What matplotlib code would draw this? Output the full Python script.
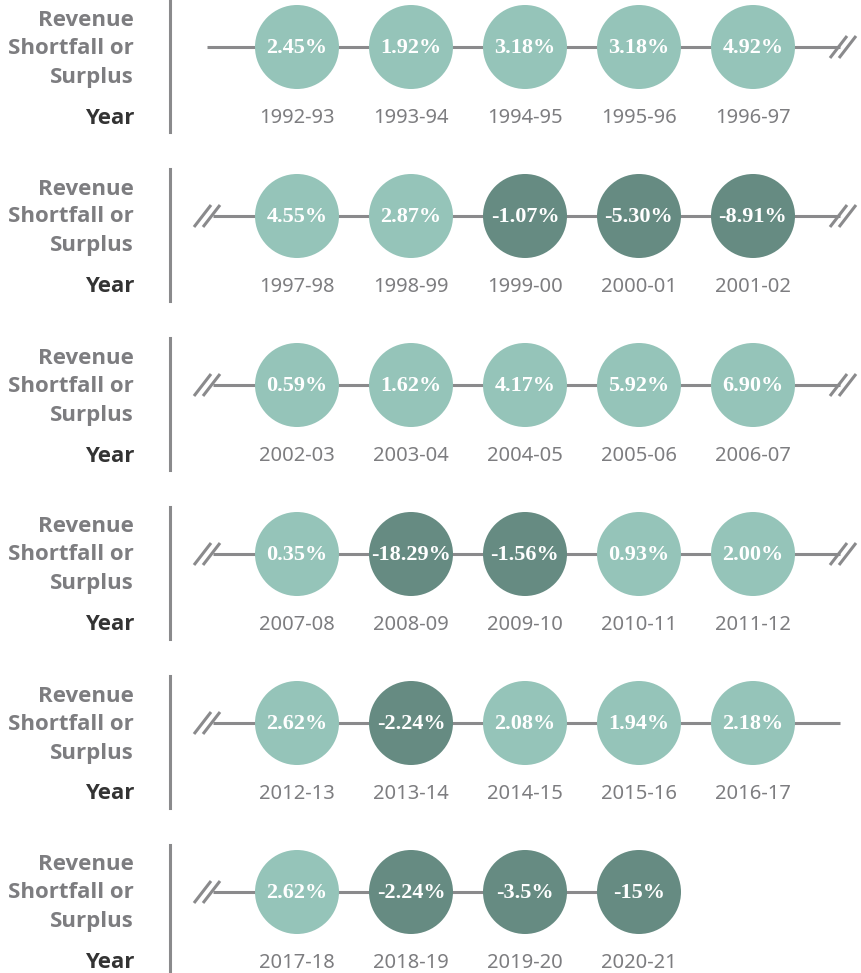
import matplotlib.pyplot as plt
from matplotlib.patches import Circle

# data
years = ['1992-93', '1993-94', '1994-95', '1995-96', '1996-97',
         '1997-98', '1998-99', '1999-00', '2000-01', '2001-02',
         '2002-03', '2003-04', '2004-05', '2005-06', '2006-07',
         '2007-08', '2008-09', '2009-10', '2010-11', '2011-12',
         '2012-13', '2013-14', '2014-15', '2015-16', '2016-17',
         '2017-18', '2018-19', '2019-20', '2020-21']
values = [2.45, 1.92, 3.18, 3.18, 4.92,
          4.55, 2.87, -1.07, -5.30, -8.91,
          0.59, 1.62, 4.17, 5.92, 6.90,
          0.35, -18.29, -1.56, 0.93, 2.00,
          2.62, -2.24, 2.08, 1.94, 2.18,
          2.62, -2.24, -3.5, -15]
value_labels = ['2.45%', '1.92%', '3.18%', '3.18%', '4.92%',
                '4.55%', '2.87%', '-1.07%', '-5.30%', '-8.91%',
                '0.59%', '1.62%', '4.17%', '5.92%', '6.90%',
                '0.35%', '-18.29%', '-1.56%', '0.93%', '2.00%',
                '2.62%', '-2.24%', '2.08%', '1.94%', '2.18%',
                '2.62%', '-2.24%', '-3.5%', '-15%']
per_row = 5

light = '#95c4b9'
dark = '#668b82'
gray = '#8a8a8c'
label_gray = '#7d7d80'

W, H = 862, 973
fig = plt.figure(figsize=(W / 100, H / 100), dpi=100)
ax = fig.add_axes([0, 0, 1, 1])
ax.set_xlim(0, W)
ax.set_ylim(H, 0)
ax.set_aspect('equal')
ax.axis('off')

x0, dx = 297, 114
y0, dy = 47, 169
r = 42
lw = 2.2


def draw_break(xs, yc):
    """two slanted strokes"""
    for off in (0, 9):
        ax.plot([xs + off, xs + off + 17], [yc + 11, yc - 11],
                color=gray, lw=lw, solid_capstyle='butt', zorder=1)


n_rows = (len(years) + per_row - 1) // per_row
for row in range(n_rows):
    yc = y0 + row * dy
    idx = list(range(row * per_row, min((row + 1) * per_row, len(years))))
    first_row = row == 0
    last_row = row == n_rows - 1

    # left labels
    ax.plot([170, 170], [yc - 47, yc + 85], color=gray, lw=lw, zorder=1)
    for txt, yy in [('Revenue', yc - 27), ('Shortfall or', yc + 1),
                    ('Surplus', yc + 30)]:
        ax.text(134, yy, txt, ha='right', va='center', fontsize=16,
                fontfamily='Open Sans', fontweight='bold', color=label_gray)
    ax.text(134, yc + 71, 'Year', ha='right', va='center', fontsize=16,
            fontfamily='Open Sans', fontweight='bold', color='#333333')

    # connecting line
    start = 207 if first_row else 213
    if last_row:
        end = x0 + (len(idx) - 1) * dx
    else:
        end = 840
    ax.plot([start, end], [yc, yc], color=gray, lw=lw, zorder=1,
            solid_capstyle='butt')
    if not first_row:
        draw_break(194, yc)
    if row < n_rows - 2:
        draw_break(830, yc)

    for k, i in enumerate(idx):
        xc = x0 + k * dx
        col = dark if values[i] < 0 else light
        ax.add_patch(Circle((xc, yc), r, color=col, zorder=2, lw=0))
        ax.text(xc, yc + 1, value_labels[i], ha='center', va='center',
                fontsize=16, fontfamily='Liberation Serif',
                fontweight='bold', color='white', zorder=3)
        ax.text(xc, yc + 71, years[i], ha='center', va='center',
                fontsize=14.5, fontfamily='Noto Sans', color=label_gray)

fig.savefig('out.png', dpi=100, facecolor='white')
